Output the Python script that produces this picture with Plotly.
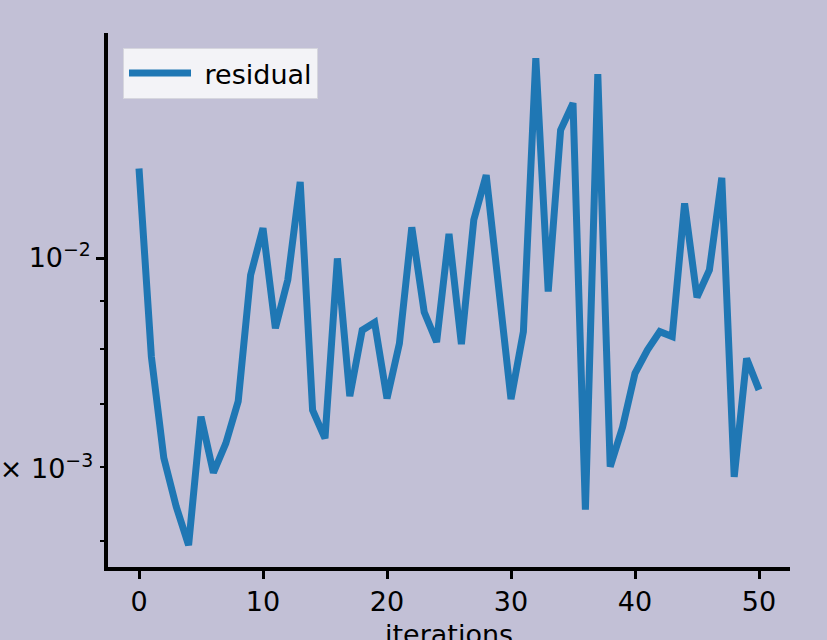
import math
import plotly.graph_objects as go

iterations = list(range(51))
residual = [
    0.01245, 0.00785, 0.00613, 0.00544, 0.00495, 0.00678, 0.00591, 0.00635,
    0.00704, 0.00959, 0.01076, 0.00842, 0.00948, 0.01205, 0.00689, 0.00643,
    0.00999, 0.00713, 0.00838, 0.00854, 0.00709, 0.00811, 0.01078, 0.00876,
    0.00814, 0.01061, 0.00810, 0.01098, 0.01225, 0.00931, 0.00708, 0.00835,
    0.01631, 0.00921, 0.01368, 0.01461, 0.00540, 0.01569, 0.00600, 0.00661,
    0.00754, 0.00798, 0.00835, 0.00825, 0.01143, 0.00908, 0.00971, 0.01217,
    0.00585, 0.00782, 0.00724,
]
series_name = "residual"
x_title = "iterations"
x_ticks = [0, 10, 20, 30, 40, 50]
y_major = [0.01]
y_major_text = ["10<sup>−2</sup>"]
y_minor = [0.005, 0.006, 0.007, 0.008, 0.009]
y_minor_label_val = 0.006
y_minor_label = "6 × 10<sup>−3</sup>"

BG = "#c2c0d6"
FONT = "DejaVu Sans"
FS = 27

fig = go.Figure()
fig.add_trace(go.Scatter(
    x=iterations, y=residual, mode="lines", name="\u00a0" + series_name,
    line=dict(color="#1f77b4", width=7),
))

fig.update_layout(
    width=827, height=640,
    paper_bgcolor=BG, plot_bgcolor=BG,
    margin=dict(l=108, r=37, t=33, b=73, pad=0),
    font=dict(family=FONT, size=FS, color="black"),
    showlegend=True,
    legend=dict(
        x=0.022, y=0.972, xanchor="left", yanchor="top",
        bgcolor="rgba(243,243,247,1)", bordercolor="#d6d6de", borderwidth=1,
        font=dict(family=FONT, size=FS, color="black"),
        itemwidth=62,
    ),
    xaxis=dict(
        range=[-2.5, 52.5], showgrid=False, zeroline=False,
        showline=True, linecolor="black", linewidth=3.5,
        ticks="outside", ticklen=8, tickwidth=3, tickcolor="black",
        tickmode="array", tickvals=x_ticks,
        tickfont=dict(family=FONT, size=FS),
        automargin=False,
    ),
    yaxis=dict(
        type="log", range=[math.log10(0.004692), math.log10(0.01735)],
        showgrid=False, zeroline=False,
        showline=True, linecolor="black", linewidth=3.5,
        ticks="outside", ticklen=8, tickwidth=3, tickcolor="black",
        tickmode="array", tickvals=y_major, ticktext=y_major_text,
        tickfont=dict(family=FONT, size=FS),
        minor=dict(tickmode="array", tickvals=y_minor, ticks="outside",
                   ticklen=4, tickwidth=1.5, tickcolor="black", showgrid=False),
        automargin=False,
    ),
    annotations=[
        dict(
            text=y_minor_label, xref="paper", yref="y",
            x=-0.019, y=math.log10(y_minor_label_val),
            xanchor="right", yanchor="middle", showarrow=False,
            font=dict(family=FONT, size=FS, color="black"),
        ),
        dict(
            text=x_title, xref="paper", yref="paper",
            x=0.5, y=-0.0936, xanchor="center", yanchor="top",
            showarrow=False,
            font=dict(family=FONT, size=FS, color="black"),
        ),
    ],
)

fig.write_html("out.html", config={"displayModeBar": False},
               post_script="document.body.style.margin='0';document.body.style.overflow='hidden';")
